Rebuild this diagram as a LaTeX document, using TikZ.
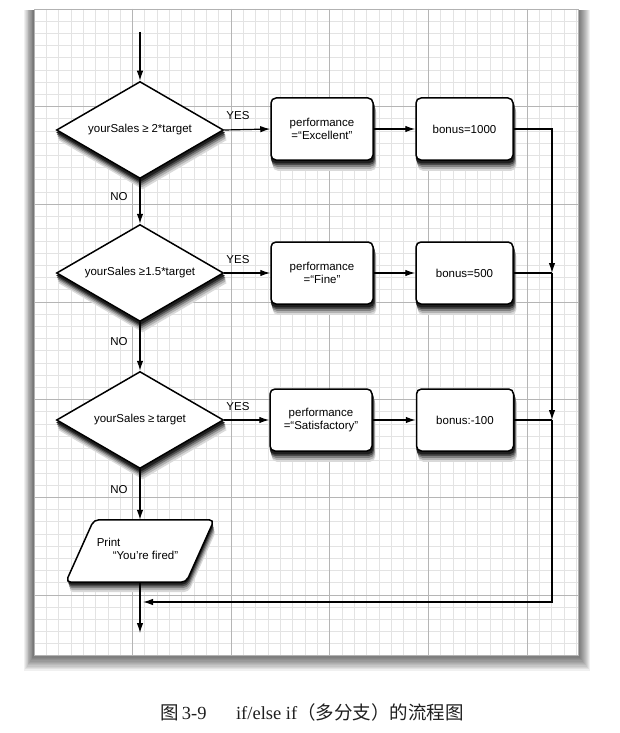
\documentclass[tikz,border=0pt]{standalone}
\usepackage{fontspec}
\setmainfont{Liberation Sans}
\newfontfamily\serifcap{Liberation Serif}
\newfontfamily\cjk{Noto Sans CJK SC}
\usetikzlibrary{shapes.geometric,arrows.meta,calc}
\pgfdeclarelayer{paper}
\pgfdeclarelayer{shade}
\pgfsetlayers{paper,shade,main}
\begin{document}
\begin{tikzpicture}[x=1pt,y=-1pt,
  conn/.style={line width=1.2pt,-{Latex[length=10pt,width=6.5pt]}},
  plain/.style={line width=1.2pt},
  txt/.style={font=\fontsize{11.5}{13.5}\selectfont},
  decision/.style={diamond,draw,line width=1.5pt,fill=white,aspect=1.72,
     minimum width=167pt,minimum height=97pt,inner sep=0pt,txt},
  process/.style={rectangle,rounded corners=5pt,draw,line width=1.5pt,fill=white,
     minimum width=102pt,minimum height=62pt,align=center,txt},
  bonusbox/.style={process,minimum width=97pt},
  lbl/.style={txt,inner sep=0pt},
  minorline/.style={gray!22,line width=0.9pt},
  majorline/.style={gray!58,line width=0.7pt}
]
\useasboundingbox (0,0) rectangle (620,733);
\begin{pgfonlayer}{paper}
\fill[white] (0,0) rectangle (620,733);
% paper shadow
\foreach \i in {1,...,12}{
  \fill[black,opacity=0.06] (34-\i*0.8,10) rectangle (578+\i,655+\i*1.3);
}
\fill[white] (34,9) rectangle (578,655);
% grid
\foreach \k in {1,...,44}{
  \draw[minorline] (34+\k*12.325,9) -- (34+\k*12.325,655);
}
\foreach \k in {1,...,52}{
  \draw[minorline] (34,9+\k*12.21) -- (578,9+\k*12.21);
}
\foreach \k in {8,16,...,40}{
  \draw[majorline] (34+\k*12.325,9) -- (34+\k*12.325,655);
}
\foreach \k in {8,16,...,48}{
  \draw[majorline] (34,9+\k*12.21) -- (578,9+\k*12.21);
}
\draw[gray!60,line width=0.7pt] (34,9) rectangle (578,655);
\end{pgfonlayer}

% decisions
\node[decision] (d1) at (140,130) {yourSales\hspace{3pt}≥\hspace{3pt}2*target};
\node[decision] (d2) at (140,273) {yourSales\hspace{3pt}≥1.5*target};
\node[decision] (d3) at (140,420) {yourSales\hspace{3pt}≥\hspace{2pt}target};

% process boxes
\node[process] (p1) at (322,129) {performance\\=“Excellent”};
\node[bonusbox] (b1) at (464.5,129) {bonus=1000};
\node[process] (p2) at (322,273) {performance\\=“Fine”};
\node[bonusbox] (b2) at (464.5,273) {bonus=500};
\node[process] (p3) at (321,420) {performance\\=“Satisfactory”};
\node[bonusbox] (b3) at (465,420) {bonus:-100};

% parallelogram
\node[inner sep=0pt,minimum width=148pt,minimum height=62pt] (pr) at (140,551) {};
\path[draw,fill=white,line width=1.5pt,rounded corners=5pt]
  ($(pr.north west)+(28,0)$) -- (pr.north east) -- ($(pr.south east)-(28,0)$)
  -- (pr.south west) -- cycle;
\node[txt,align=left,inner sep=0pt] (prt) at (137.5,549) {Print\\\hspace{16pt}“You’re fired”};

% shadows (opaque greys, outermost first)
\begin{pgfonlayer}{shade}
\foreach \sx/\sy/\shc in {2.5/10/black!15, 2/8/black!30, 1.5/6/black!50, 1/4.2/black!70, 0.5/2.5/black!88}{
  \foreach \nd in {d1,d2,d3}{
    \fill[\shc] ($(\nd.north)+(\sx,\sy)$) -- ($(\nd.east)+(\sx,\sy)$)
      -- ($(\nd.south)+(\sx,\sy)$) -- ($(\nd.west)+(\sx,\sy)$) -- cycle;
  }
  \foreach \nb in {p1,b1,p2,b2,p3,b3}{
    \fill[\shc,rounded corners=5pt] ($(\nb.north west)+(\sx,\sy)$)
      rectangle ($(\nb.south east)+(\sx,\sy)$);
  }
  \fill[\shc,rounded corners=5pt]
    ($(pr.north west)+(28+\sx,\sy)$) -- ($(pr.north east)+(\sx,\sy)$)
    -- ($(pr.south east)+(-28+\sx,\sy)$) -- ($(pr.south west)+(\sx,\sy)$) -- cycle;
}
\end{pgfonlayer}

% labels
\node[lbl] (y1) at (238,116) {YES};
\node[lbl] (y2) at (238,260) {YES};
\node[lbl] (y3) at (238,407) {YES};
\node[lbl] (n1) at (119,197) {NO};
\node[lbl] (n2) at (119,342) {NO};
\node[lbl] (n3) at (119,490) {NO};

% coordinates
\coordinate (start) at (140,32);
\coordinate (finish) at (140,633);
\coordinate (j2) at (552,273);
\coordinate (j3) at (552,420);
\coordinate (ret) at (143,602);

% main flow
\draw[conn] (start) -- (d1.north);
\draw[conn] (d1.south) -- (d2.north);
\draw[conn] (d2.south) -- (d3.north);
\draw[conn] (d3.south) -- (pr.north);
\draw[conn] (pr.south) -- (finish);

% yes branches
\draw[conn] (d1.east) -- (p1.west);
\draw[conn] (p1.east) -- (b1.west);
\draw[conn] (d2.east) -- (p2.west);
\draw[conn] (p2.east) -- (b2.west);
\draw[conn] (d3.east) -- (p3.west);
\draw[conn] (p3.east) -- (b3.west);

% merge line
\draw[conn] (b1.east) -| (j2);
\draw[plain] (b2.east) -- (j2);
\draw[conn] (j2) -- (j3);
\draw[plain] (b3.east) -- (j3);
\draw[conn] (j3) |- (ret);

% caption
\node[font=\fontsize{18.5}{22}\selectfont,text=black!88] (cap) at (312,712)
  {\cjk 图\,{\serifcap 3-9}\hspace{1.6em}{\serifcap if/else if}（多分支）的流程图};
\end{tikzpicture}
\end{document}
